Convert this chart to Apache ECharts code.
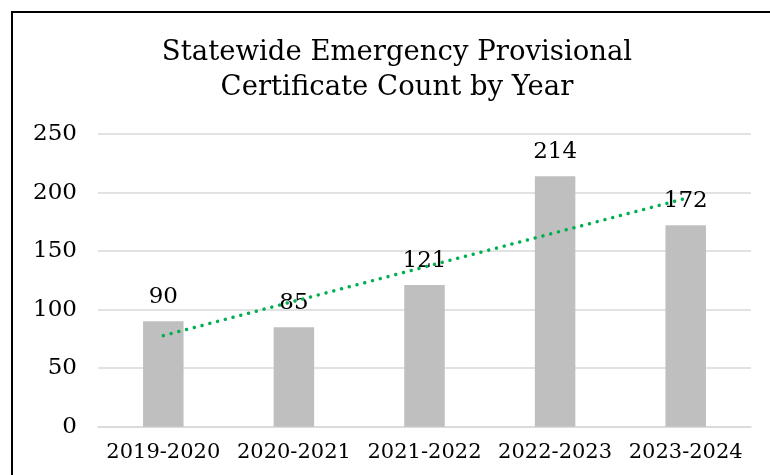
<!DOCTYPE html>
<html>
<head>
<meta charset="utf-8">
<script src="https://cdn.jsdelivr.net/npm/echarts@6/dist/echarts.min.js"></script>
<style>
  html, body { margin: 0; padding: 0; background: #fff; }
  #chart { width: 770px; height: 475px; }
</style>
</head>
<body>
<div id="chart"></div>
<script>
// School years shown on the category axis
var years = ['2019-2020', '2020-2021', '2021-2022', '2022-2023', '2023-2024'];
// Emergency provisional certificates issued per year
var certificateCounts = [90, 85, 121, 214, 172];
// Linear trend values at the first and last year
var trendEnds = [77.8, 195];
// Value axis ticks
var yTicks = [0, 50, 100, 150, 200, 250];

var serif = '"DejaVu Serif", "Liberation Serif", serif';

var chart = echarts.init(document.getElementById('chart'), null, { renderer: 'canvas' });

chart.setOption({
  animation: false,
  backgroundColor: '#ffffff',
  title: {
    text: 'Statewide Emergency Provisional\nCertificate Count by Year',
    left: 392,
    textAlign: 'center',
    top: 30,
    textStyle: {
      fontFamily: serif,
      fontWeight: 'normal',
      fontSize: 27.5,
      lineHeight: 35,
      color: '#000'
    }
  },
  graphic: [{
    type: 'rect',
    shape: { x: 12, y: 12, width: 800, height: 520 },
    style: { fill: 'none', stroke: '#000', lineWidth: 2 },
    silent: true
  }],
  grid: { left: 98, right: 19, top: 134, bottom: 48.3 },
  xAxis: {
    type: 'category',
    data: years,
    axisLine: { show: true, lineStyle: { color: '#D9D9D9', width: 1.5 } },
    axisTick: { show: false },
    axisLabel: {
      fontFamily: serif,
      fontSize: 21,
      color: '#000',
      margin: 15,
      interval: 0
    }
  },
  yAxis: {
    type: 'value',
    min: yTicks[0],
    max: yTicks[yTicks.length - 1],
    interval: yTicks[1] - yTicks[0],
    axisLine: { show: false },
    axisTick: { show: false },
    splitLine: { lineStyle: { color: '#D9D9D9', width: 1.5 } },
    axisLabel: {
      fontFamily: serif,
      fontSize: 23,
      color: '#000',
      margin: 21
    }
  },
  series: [
    {
      type: 'bar',
      data: certificateCounts,
      barWidth: '31%',
      itemStyle: { color: '#BFBFBF' },
      label: {
        show: true,
        position: 'top',
        distance: 13,
        fontFamily: serif,
        fontSize: 23,
        color: '#000'
      },
      z: 2
    },
    {
      type: 'line',
      data: [[0, trendEnds[0]], [years.length - 1, trendEnds[1]]],
      symbol: 'none',
      lineStyle: {
        color: '#00B050',
        width: 3.5,
        type: [0.01, 8],
        cap: 'round'
      },
      z: 3
    }
  ]
});
</script>
</body>
</html>
